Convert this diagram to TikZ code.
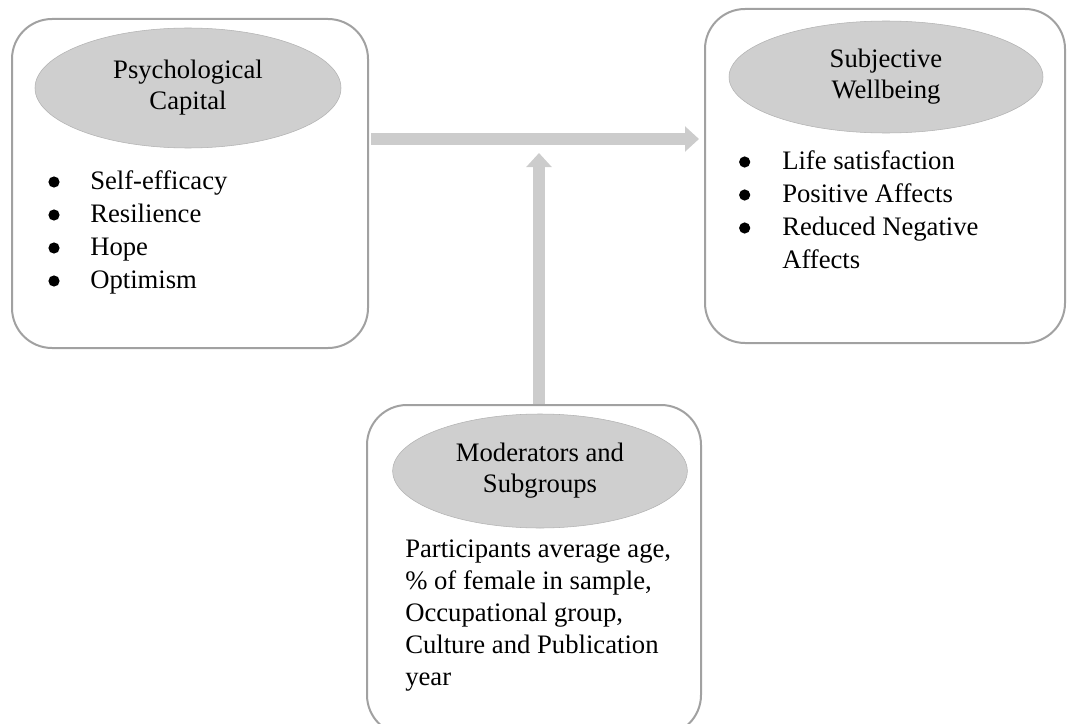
\documentclass[tikz,border=0pt]{standalone}
\usepackage{fontspec}
\setmainfont{Liberation Serif}
\usetikzlibrary{shapes.geometric, arrows.meta}

\tikzset{
  panel/.style={draw=black!37, line width=1.5pt, rounded corners=30pt, fill=white},
  title/.style={ellipse, draw=black!30, fill=black!19, align=center, inner sep=0pt,
    font=\fontsize{20}{23.25}\selectfont},
  entry/.style={anchor=base west, inner sep=0pt},
  dot/.style={fill=black},
  flow/.style={draw=black!20, line width=9.5pt, -{Triangle[width=18.5pt,length=10.5pt]}}
}

\begin{document}
\begin{tikzpicture}[x=0.75pt, y=-0.75pt, font=\fontsize{20}{24.75}\selectfont]

    \useasboundingbox (0,0) rectangle (1067,724);
    \clip (0,0) rectangle (1067,724);

    \node [panel, minimum width=267pt, minimum height=246.75pt] (psycap) at (190,183.5) {};
    \node [panel, minimum width=270pt, minimum height=250.5pt] (swb) at (885,176) {};
    \node [panel, minimum width=250.5pt, minimum height=247.5pt] (modsub) at (534,570) {};

    \node [title, minimum width=229.5pt, minimum height=90pt] (psycapt) at (188,88) {Psychological\\Capital};
    \node [title, minimum width=235.5pt, minimum height=84pt] (swbt) at (886,77) {Subjective\\Wellbeing};
    \node [title, minimum width=221pt, minimum height=85.5pt] (modsubt) at (540,471) {Moderators and\\Subgroups};

    \node [entry] (se) at (90,189) {Self-efficacy};
    \node [entry] (res) at (90,222) {Resilience};
    \node [entry] (hope) at (90,255) {Hope};
    \node [entry] (opt) at (90,288) {Optimism};

    \node [entry] (ls) at (782,169) {Life satisfaction};
    \node [entry] (pa) at (782,202) {Positive Affects};
    \node [entry] (rna) at (782,235) {\begin{tabular}[t]{@{}l@{}}Reduced Negative\\Affects\end{tabular}};

    \fill [dot] ([xshift=-27pt, yshift=5.25pt]se.base west) circle (4.2pt);
    \fill [dot] ([xshift=-27pt, yshift=5.25pt]res.base west) circle (4.2pt);
    \fill [dot] ([xshift=-27pt, yshift=5.25pt]hope.base west) circle (4.2pt);
    \fill [dot] ([xshift=-27pt, yshift=5.25pt]opt.base west) circle (4.2pt);
    \fill [dot] ([xshift=-28pt, yshift=5.25pt]ls.base west) circle (4.2pt);
    \fill [dot] ([xshift=-28pt, yshift=5.25pt]pa.base west) circle (4.2pt);
    \fill [dot] ([xshift=-28pt, yshift=5.25pt]rna.base west) circle (4.2pt);

    \node [entry, font=\fontsize{20}{24}\selectfont] (modlist) at (405,557) {\begin{tabular}[t]{@{}l@{}}Participants average age,\\\% of female in sample,\\Occupational group,\\Culture and Publication\\year\end{tabular}};

    \coordinate (hlevel) at (0,139);
    \coordinate (vtip) at (539,153);

    \draw [flow] ([xshift=1.5pt]psycap.east |- hlevel) -- ([xshift=-3.75pt]swb.west |- hlevel);
    \draw [flow] (modsub.north -| vtip) -- (vtip);

  \end{tikzpicture}
\end{document}
